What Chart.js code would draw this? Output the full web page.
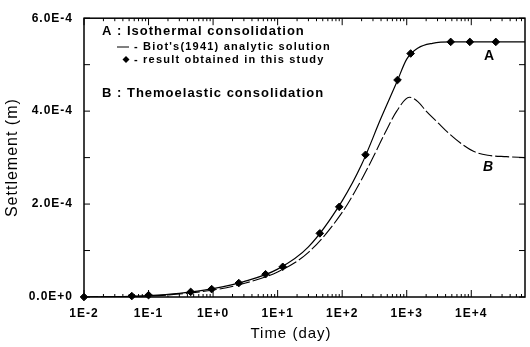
<!DOCTYPE html>
<html lang="en">
  <head>
    <meta charset="utf-8" />
    <title>Settlement vs time</title>
    <style>
      * {
        margin: 0;
        padding: 0;
      }
      body {
        background: #fff;
      }
      .chartBox {
        width: 530px;
        height: 347px;
      }
    </style>
  </head>
  <body>
    <div class="chartBox">
      <canvas id="myChart"></canvas>
    </div>

    <script src="https://cdn.jsdelivr.net/npm/chart.js"></script>

    <script>
      // data block (time in days, settlement in m)
      const markerDays = [0.01, 0.055, 0.1, 0.45, 0.95, 2.5, 6.5, 12, 45, 90, 230, 720, 1150, 4800, 9500, 24000];
      const markerSettle = [0, 2e-6, 4e-6, 1.1e-5, 1.7e-5, 3.0e-5, 4.9e-5, 6.5e-5, 1.37e-4, 1.94e-4, 3.06e-4, 4.67e-4, 5.24e-4, 5.49e-4, 5.49e-4, 5.49e-4];

      const biotDays = [0.01, 0.05, 0.1, 0.3, 1, 3, 10, 30, 100, 200, 400, 700, 1000, 1500, 2500, 5000, 68000];
      const biotSettle = [0, 1.5e-6, 3e-6, 8e-6, 1.8e-5, 3.3e-5, 6.0e-5, 1.08e-4, 2.07e-4, 2.85e-4, 3.85e-4, 4.62e-4, 5.12e-4, 5.36e-4, 5.46e-4, 5.49e-4, 5.49e-4];

      const thermoDays = [0.01, 0.1, 1, 3, 10, 30, 100, 200, 300, 450, 700, 1100, 1500, 2000, 3000, 4500, 7000, 11000, 18000, 35000, 68000];
      const thermoSettle = [0, 2e-6, 1.5e-5, 2.9e-5, 5.4e-5, 9.6e-5, 1.82e-4, 2.53e-4, 3.0e-4, 3.5e-4, 4.0e-4, 4.3e-4, 4.2e-4, 4.0e-4, 3.76e-4, 3.52e-4, 3.3e-4, 3.13e-4, 3.05e-4, 3.02e-4, 3.0e-4];

      // tick block
      const xTickDays = [0.01, 0.1, 1, 10, 100, 1000, 10000];
      const xTickLabels = ["1E-2", "1E-1", "1E+0", "1E+1", "1E+2", "1E+3", "1E+4"];
      const yTickValues = [0, 1e-4, 2e-4, 3e-4, 4e-4, 5e-4, 6e-4];
      const yTickLabels = ["0.0E+0", "", "2.0E-4", "", "4.0E-4", "", "6.0E-4"];

      const pairs = (xs, ys) => xs.map((v, i) => ({ x: v, y: ys[i] }));
      const FONT = "'Liberation Sans', Arial, sans-serif";

      const data = {
        datasets: [
          {
            label: "Biot's(1941) analytic solution",
            data: pairs(biotDays, biotSettle),
            borderColor: "#000",
            borderWidth: 1.2,
            pointRadius: 0,
            cubicInterpolationMode: "monotone",
          },
          {
            label: "Thermoelastic consolidation",
            data: pairs(thermoDays, thermoSettle),
            borderColor: "#000",
            borderWidth: 1.1,
            borderDash: [14, 3],
            pointRadius: 0,
            cubicInterpolationMode: "monotone",
          },
          {
            label: "result obtained in this study",
            data: pairs(markerDays, markerSettle),
            showLine: false,
            // the first marker sits in the corner, so don't cut it off
            clip: false,
            pointStyle: "rectRot",
            pointRadius: 3.8,
            backgroundColor: "#000",
            borderColor: "#000",
            borderWidth: 1,
          },
        ],
      };

      // frame, inward ticks and the text notes
      const frameAndNotes = {
        id: "frameAndNotes",
        beforeDraw(chart) {
          chart.ctx.letterSpacing = "1px";
        },
        afterDraw(chart) {
          const {
            ctx,
            chartArea: { top, bottom, left, right },
            scales: { x, y },
          } = chart;
          ctx.save();
          ctx.strokeStyle = "#000";
          ctx.lineWidth = 1.5;
          ctx.strokeRect(left, top, right - left, bottom - top);

          ctx.lineWidth = 1;
          ctx.beginPath();
          xTickDays.forEach((v) => {
            const px = x.getPixelForValue(v);
            ctx.moveTo(px, bottom);
            ctx.lineTo(px, bottom - 7);
            ctx.moveTo(px, top);
            ctx.lineTo(px, top + 7);
          });
          // minor ticks 2..9 in every decade
          for (let e = -2; e <= 4; e++) {
            for (let m = 2; m <= 9; m++) {
              const v = m * Math.pow(10, e);
              if (v > x.max) break;
              const px = x.getPixelForValue(v);
              ctx.moveTo(px, bottom);
              ctx.lineTo(px, bottom - 3);
              ctx.moveTo(px, top);
              ctx.lineTo(px, top + 3);
            }
          }
          yTickValues.forEach((v) => {
            const py = y.getPixelForValue(v);
            ctx.moveTo(left, py);
            ctx.lineTo(left + 6, py);
            ctx.moveTo(right, py);
            ctx.lineTo(right - 6, py);
          });
          ctx.stroke();

          ctx.fillStyle = "#000";
          ctx.textBaseline = "middle";

          // x axis title, a bit left of the plot centre as in the original
          ctx.textAlign = "center";
          ctx.letterSpacing = "1px";
          ctx.font = `15px ${FONT}`;
          ctx.fillText("Time (day)", 291, 334);

          // notes
          ctx.textAlign = "left";
          ctx.font = `bold 13px ${FONT}`;
          ctx.fillText("A : Isothermal consolidation", 102, 31);
          ctx.fillText("B : Themoelastic consolidation", 102, 93);

          ctx.letterSpacing = "1.2px";
          ctx.font = `bold 11px ${FONT}`;
          ctx.fillText("- Biot's(1941) analytic solution", 134, 47);
          ctx.fillText("- result obtained in this study", 134, 60);

          ctx.beginPath();
          ctx.moveTo(117, 47);
          ctx.lineTo(129, 47);
          ctx.stroke();
          ctx.beginPath();
          ctx.moveTo(126, 56);
          ctx.lineTo(129.5, 59.5);
          ctx.lineTo(126, 63);
          ctx.lineTo(122.5, 59.5);
          ctx.closePath();
          ctx.fill();

          ctx.letterSpacing = "0px";
          ctx.textAlign = "center";
          ctx.font = `bold 14px ${FONT}`;
          ctx.fillText("A", 489, 56);
          ctx.font = `italic bold 14px ${FONT}`;
          ctx.fillText("B", 488, 167);
          ctx.restore();
          ctx.letterSpacing = "0px";
        },
      };

      // config block
      const config = {
        type: "line",
        data: data,
        options: {
          responsive: true,
          maintainAspectRatio: false,
          animation: false,
          layout: {
            padding: { top: 13, right: 2, left: 0, bottom: 0 },
          },
          plugins: {
            legend: { display: false },
            tooltip: { enabled: false },
          },
          scales: {
            x: {
              type: "logarithmic",
              min: 0.01,
              max: 68000,
              grid: { display: false, drawTicks: false },
              border: { display: false },
              afterBuildTicks: (scale) => {
                scale.ticks = xTickDays.map((v) => ({ value: v }));
              },
              afterFit: (scale) => {
                scale.height = 50;
              },
              ticks: {
                autoSkip: false,
                maxRotation: 0,
                padding: 9,
                color: "#000",
                font: { family: FONT, size: 12, weight: "bold" },
                callback: (value, index) => xTickLabels[index],
              },
            },
            y: {
              type: "linear",
              min: 0,
              max: 6e-4,
              grid: { display: false, drawTicks: false },
              border: { display: false },
              afterBuildTicks: (scale) => {
                scale.ticks = yTickValues.map((v) => ({ value: v }));
              },
              afterFit: (scale) => {
                scale.width = 84;
              },
              ticks: {
                autoSkip: false,
                padding: 11,
                color: "#000",
                font: { family: FONT, size: 12, weight: "bold" },
                callback: (value, index) => yTickLabels[index],
              },
              title: {
                display: true,
                text: "Settlement (m)",
                color: "#000",
                padding: { top: 3, bottom: 0 },
                font: { family: FONT, size: 16 },
              },
            },
          },
        },
        plugins: [frameAndNotes],
      };

      // init render block
      const myChart = new Chart(document.getElementById("myChart"), config);
    </script>
  </body>
</html>
